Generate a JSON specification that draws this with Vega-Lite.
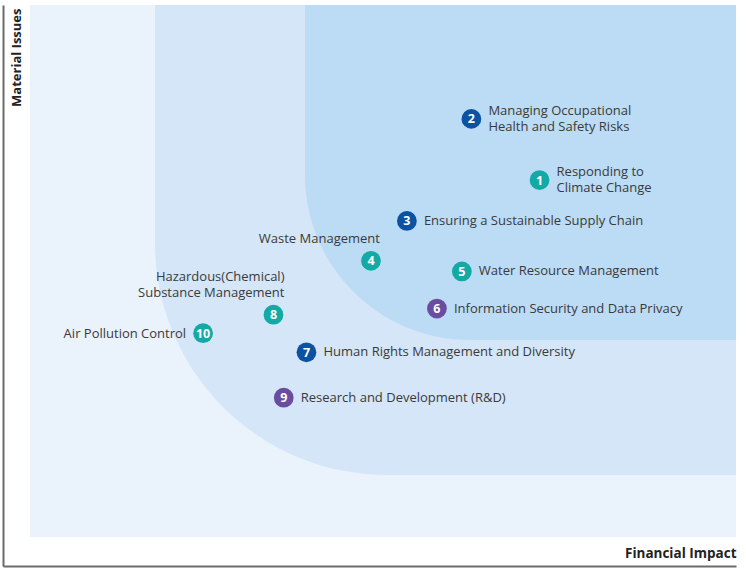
{
  "$schema": "https://vega.github.io/schema/vega-lite/v6.json",
  "width": 733,
  "height": 561,
  "autosize": {"type": "none"},
  "padding": {"left": 3, "top": 5, "right": 10, "bottom": 6},
  "background": "white",
  "config": {"view": {"stroke": null}, "font": "Open Sans"},
  "datasets": {
    "zones": [
      {"zone": "outer", "x": 3.68, "x2": 100, "y": 5.17, "y2": 100},
      {"zone": "middle", "x": 20.74, "x2": 100, "y": 16.22, "y2": 100},
      {"zone": "inner", "x": 41.2, "x2": 100, "y": 40.29, "y2": 100}
    ],
    "issues": [
      {"id": 1, "x": 73.2, "y": 68.8, "group": "teal", "label": "Responding to\nClimate Change"},
      {"id": 2, "x": 63.9, "y": 79.7, "group": "blue", "label": "Managing Occupational\nHealth and Safety Risks"},
      {"id": 3, "x": 55.1, "y": 61.5, "group": "blue", "label": "Ensuring a Sustainable Supply Chain"},
      {"id": 4, "x": 50.2, "y": 54.4, "group": "teal", "label": "Waste Management"},
      {"id": 5, "x": 62.6, "y": 52.5, "group": "teal", "label": "Water Resource Management"},
      {"id": 6, "x": 59.2, "y": 45.9, "group": "purple", "label": "Information Security and Data Privacy"},
      {"id": 7, "x": 41.4, "y": 38.1, "group": "blue", "label": "Human Rights Management and Diversity"},
      {"id": 8, "x": 36.9, "y": 44.8, "group": "teal", "label": "Hazardous(Chemical)\nSubstance Management"},
      {"id": 9, "x": 38.3, "y": 30.0, "group": "purple", "label": "Research and Development (R&D)"},
      {"id": 10, "x": 27.3, "y": 41.5, "group": "teal", "label": "Air Pollution Control"}
    ]
  },
  "layer": [
    {
      "data": {"name": "zones"},
      "transform": [{"filter": "datum.zone === 'outer'"}],
      "mark": {"type": "rect", "color": "#EAF2FB"},
      "encoding": {
        "x": {
          "field": "x", "type": "quantitative",
          "scale": {"domain": [0, 100], "nice": false, "zero": false},
          "axis": {
            "title": "Financial Impact", "orient": "bottom",
            "domain": true, "domainColor": "#6b6b6b", "domainWidth": 2,
            "ticks": false, "labels": false, "grid": false, "zindex": 1,
            "titleX": 733, "titleY": -9, "titleAlign": "right", "titleBaseline": "alphabetic",
            "titleFontSize": 13.5, "titleFontWeight": "bold", "titleColor": "#222222", "titleFont": "Open Sans"
          }
        },
        "x2": {"field": "x2"},
        "y": {
          "field": "y", "type": "quantitative",
          "scale": {"domain": [0, 100], "nice": false, "zero": false},
          "axis": {
            "title": "Material Issues", "orient": "left",
            "domain": true, "domainColor": "#6b6b6b", "domainWidth": 2,
            "ticks": false, "labels": false, "grid": false, "zindex": 1,
            "titleAngle": 270, "titleX": 7, "titleY": 3, "titleAlign": "right", "titleBaseline": "top",
            "titleFontSize": 13, "titleFontWeight": "bold", "titleColor": "#222222", "titleFont": "Open Sans"
          }
        },
        "y2": {"field": "y2"}
      }
    },
    {
      "data": {"name": "zones"},
      "transform": [{"filter": "datum.zone === 'middle'"}],
      "mark": {"type": "rect", "color": "#D4E6F7", "cornerRadiusBottomLeft": 232},
      "encoding": {
        "x": {"field": "x", "type": "quantitative"},
        "x2": {"field": "x2"},
        "y": {"field": "y", "type": "quantitative"},
        "y2": {"field": "y2"}
      }
    },
    {
      "data": {"name": "zones"},
      "transform": [{"filter": "datum.zone === 'inner'"}],
      "mark": {"type": "rect", "color": "#BCDBF5", "cornerRadiusBottomLeft": 165},
      "encoding": {
        "x": {"field": "x", "type": "quantitative"},
        "x2": {"field": "x2"},
        "y": {"field": "y", "type": "quantitative"},
        "y2": {"field": "y2"}
      }
    },
    {
      "data": {"name": "issues"},
      "mark": {"type": "circle", "size": 390, "opacity": 1},
      "encoding": {
        "x": {"field": "x", "type": "quantitative"},
        "y": {"field": "y", "type": "quantitative"},
        "color": {
          "field": "group", "type": "nominal", "legend": null,
          "scale": {"domain": ["blue", "teal", "purple"], "range": ["#0B52A3", "#13A9A5", "#6A4D9E"]}
        }
      }
    },
    {
      "data": {"name": "issues"},
      "mark": {"type": "text", "color": "white", "fontWeight": "bold", "fontSize": 12.5, "align": "center", "baseline": "middle", "dy": 0.5},
      "encoding": {
        "x": {"field": "x", "type": "quantitative"},
        "y": {"field": "y", "type": "quantitative"},
        "text": {"field": "id", "type": "nominal"}
      }
    },
    {
      "data": {"name": "issues"},
      "transform": [{"filter": "indexof([3,5,6,7,9], datum.id) >= 0"}],
      "mark": {"type": "text", "color": "#3a3a3a", "fontSize": 13, "align": "left", "baseline": "middle", "dx": 17},
      "encoding": {
        "x": {"field": "x", "type": "quantitative"},
        "y": {"field": "y", "type": "quantitative"},
        "text": {"field": "label", "type": "nominal"}
      }
    },
    {
      "data": {"name": "issues"},
      "transform": [{"filter": "datum.id === 1 || datum.id === 2"}],
      "mark": {"type": "text", "color": "#3a3a3a", "fontSize": 13, "align": "left", "baseline": "middle", "dx": 17, "dy": -8, "lineBreak": "\n", "lineHeight": 16},
      "encoding": {
        "x": {"field": "x", "type": "quantitative"},
        "y": {"field": "y", "type": "quantitative"},
        "text": {"field": "label", "type": "nominal"}
      }
    },
    {
      "data": {"name": "issues"},
      "transform": [{"filter": "datum.id === 10"}],
      "mark": {"type": "text", "color": "#3a3a3a", "fontSize": 13, "align": "right", "baseline": "middle", "dx": -17, "dy": 1},
      "encoding": {
        "x": {"field": "x", "type": "quantitative"},
        "y": {"field": "y", "type": "quantitative"},
        "text": {"field": "label", "type": "nominal"}
      }
    },
    {
      "data": {"name": "issues"},
      "transform": [{"filter": "datum.id === 4"}],
      "mark": {"type": "text", "color": "#3a3a3a", "fontSize": 13, "align": "right", "baseline": "bottom", "dx": 9, "dy": -15},
      "encoding": {
        "x": {"field": "x", "type": "quantitative"},
        "y": {"field": "y", "type": "quantitative"},
        "text": {"field": "label", "type": "nominal"}
      }
    },
    {
      "data": {"name": "issues"},
      "transform": [{"filter": "datum.id === 8"}],
      "mark": {"type": "text", "color": "#3a3a3a", "fontSize": 13, "align": "right", "baseline": "bottom", "dx": 11, "dy": -31, "lineBreak": "\n", "lineHeight": 16},
      "encoding": {
        "x": {"field": "x", "type": "quantitative"},
        "y": {"field": "y", "type": "quantitative"},
        "text": {"field": "label", "type": "nominal"}
      }
    }
  ]
}
